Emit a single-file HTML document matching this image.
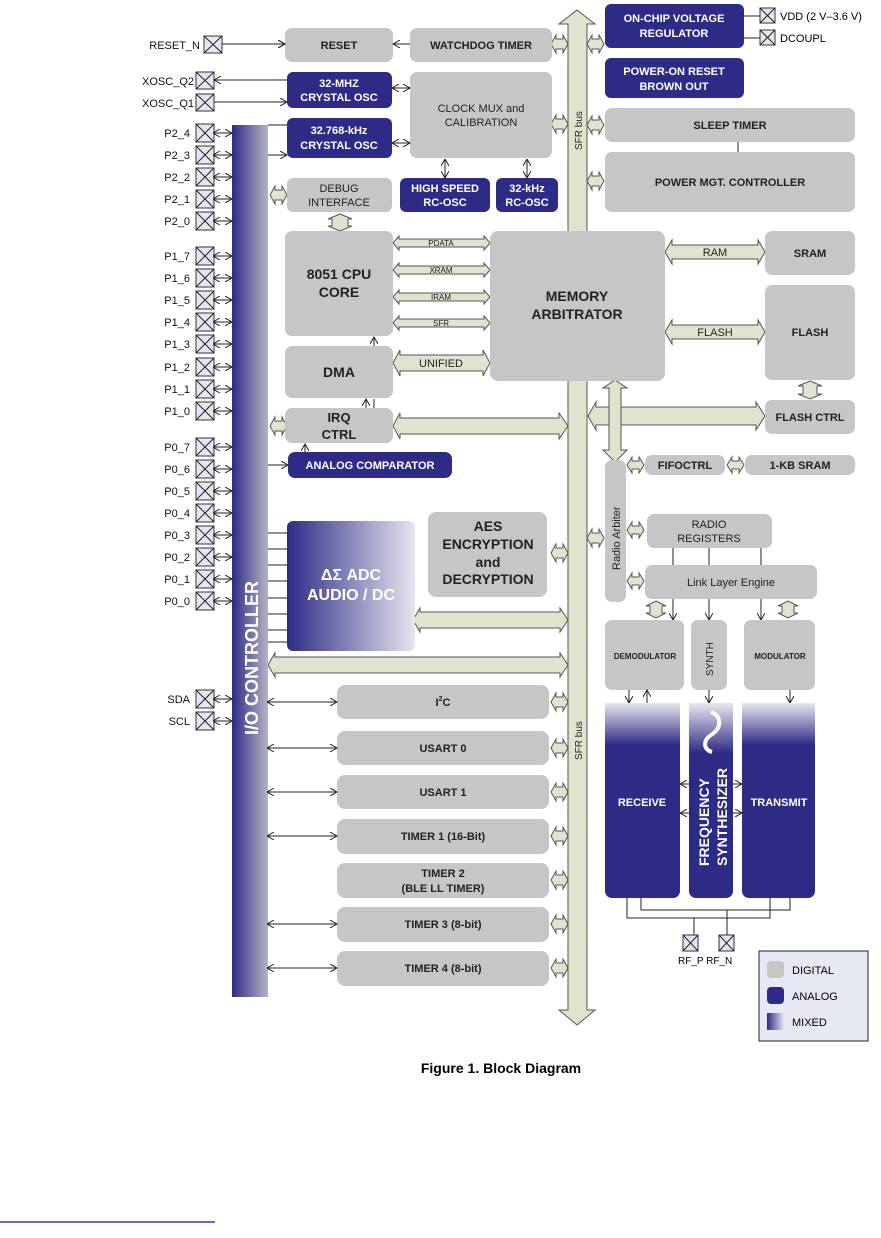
<!DOCTYPE html>
<html><head><meta charset="utf-8"><style>
body{margin:0;background:#fff;}
svg{display:block;font-family:"Liberation Sans",Arial,sans-serif;font-weight:bold;}
.g{fill:#c6c6c6;}
.n{fill:#2d2b85;}
.bus{fill:#dfe4cf;stroke:#555;stroke-width:1;}
.t{fill:#222;font-size:11px;text-anchor:middle;}
.w{fill:#fff;font-size:11px;text-anchor:middle;}
.p{fill:#111;font-size:11px;font-weight:normal;text-anchor:end;}
.ln{stroke:#222;stroke-width:1;fill:none;}
.pin{fill:#e4e6f2;stroke:#333;stroke-width:1;}
</style></head><body>
<svg width="881" height="1238" viewBox="0 0 881 1238">
<defs>
<marker id="a" markerWidth="8" markerHeight="8" refX="7" refY="4" orient="auto" markerUnits="userSpaceOnUse"><path d="M0,0 L7,4 L0,8" fill="none" stroke="#222" stroke-width="1"/></marker>
<marker id="s" markerWidth="8" markerHeight="8" refX="1" refY="4" orient="auto" markerUnits="userSpaceOnUse"><path d="M7,0 L0,4 L7,8" fill="none" stroke="#222" stroke-width="1"/></marker>
<linearGradient id="io" x1="0" x2="1" y1="0" y2="0"><stop offset="0" stop-color="#2d2b85"/><stop offset="1" stop-color="#b4b4c4"/></linearGradient>
<linearGradient id="adc" x1="0" x2="1" y1="0" y2="0"><stop offset="0" stop-color="#2d2b85"/><stop offset="1" stop-color="#e6e6ee"/></linearGradient>
<linearGradient id="rf" x1="0" x2="0" y1="0" y2="1"><stop offset="0" stop-color="#e8e8f0"/><stop offset="1" stop-color="#2d2b85"/></linearGradient>
</defs>

<!-- SFR bus -->
<polygon class="bus" points="577,10 595,24 587,24 587,1010 595,1010 577,1025 559,1010 568,1010 568,24 559,24"/>
<text transform="translate(582,150) rotate(-90)" style="font-size:10px;font-weight:normal" fill="#222">SFR bus</text>
<text transform="translate(582,760) rotate(-90)" style="font-size:10px;font-weight:normal" fill="#222">SFR bus</text>

<!-- small SFR connectors left side -->
<g class="bus">
<polygon points="551,44 556,35 556,39 563,39 563,35 568,44 563,53 563,49 556,49 556,53"/>
<polygon points="551,124 556,115 556,119 563,119 563,115 568,124 563,133 563,129 556,129 556,133"/>
<polygon points="551,553 556,544 556,548 563,548 563,544 568,553 563,562 563,558 556,558 556,562"/>
<polygon points="551,702 556,693 556,697 563,697 563,693 568,702 563,711 563,707 556,707 556,711"/>
<polygon points="551,748 556,739 556,743 563,743 563,739 568,748 563,757 563,753 556,753 556,757"/>
<polygon points="551,792 556,783 556,787 563,787 563,783 568,792 563,801 563,797 556,797 556,801"/>
<polygon points="551,836 556,827 556,831 563,831 563,827 568,836 563,845 563,841 556,841 556,845"/>
<polygon points="551,880 556,871 556,875 563,875 563,871 568,880 563,889 563,885 556,885 556,889"/>
<polygon points="551,924 556,915 556,919 563,919 563,915 568,924 563,933 563,929 556,929 556,933"/>
<polygon points="551,968 556,959 556,963 563,963 563,959 568,968 563,977 563,973 556,973 556,977"/>
<!-- right side -->
<polygon points="587,44 592,35 592,39 599,39 599,35 604,44 599,53 599,49 592,49 592,53"/>
<polygon points="587,125 592,116 592,120 599,120 599,116 604,125 599,134 599,130 592,130 592,134"/>
<polygon points="587,181 592,172 592,176 599,176 599,172 604,181 599,190 599,186 592,186 592,190"/>
<polygon points="587,538 592,529 592,533 599,533 599,529 604,538 599,547 599,543 592,543 592,547"/>
<!-- left of blocks from IO -->
<polygon points="270,195 275,186 275,190 282,190 282,186 287,195 282,204 282,200 275,200 275,204"/>
<polygon points="270,426 275,417 275,421 282,421 282,417 287,426 282,435 282,431 275,431 275,435"/>
<!-- debug-cpu vertical -->
<polygon points="340,214 352,219 348,219 348,226 352,226 340,231 328,226 332,226 332,219 328,219"/>
<!-- radio arbiter connectors -->
<polygon points="627,465 632,457 632,461 639,461 639,457 644,465 639,473 639,469 632,469 632,473"/>
<polygon points="727,465 732,457 732,461 739,461 739,457 744,465 739,473 739,469 732,469 732,473"/>
<polygon points="627,530 632,522 632,526 639,526 639,522 644,530 639,538 639,534 632,534 632,538"/>
<polygon points="627,581 632,573 632,577 639,577 639,573 644,581 639,589 639,585 632,585 632,589"/>
<!-- LLE to demod/mod -->
<polygon points="656,601 666,606 662,606 662,613 666,613 656,618 646,613 650,613 650,606 646,606"/>
<polygon points="788,601 798,606 794,606 794,613 798,613 788,618 778,613 782,613 782,606 778,606"/>
<!-- flash to flash ctrl -->
<polygon points="810,381 822,386 817,386 817,394 822,394 810,399 798,394 803,394 803,386 798,386"/>
</g>

<!-- big fat arrows -->
<g class="bus">
<polygon points="393,243 399,236 399,239 484,239 484,236 490,243 484,250 484,247 399,247 399,250"/>
<polygon points="393,270 399,263 399,266 484,266 484,263 490,270 484,277 484,274 399,274 399,277"/>
<polygon points="393,297 399,290 399,293 484,293 484,290 490,297 484,304 484,301 399,301 399,304"/>
<polygon points="393,323 399,316 399,319 484,319 484,316 490,323 484,330 484,327 399,327 399,330"/>
<polygon points="393,363 400,350 400,355 483,355 483,350 490,363 483,376 483,371 400,371 400,376"/>
<polygon points="393,426 400,413 400,418 559,418 559,413 568,426 559,439 559,434 400,434 400,439"/>
<polygon points="665,252 672,240 672,245 758,245 758,240 765,252 758,264 758,259 672,259 672,264"/>
<polygon points="665,332 672,320 672,325 758,325 758,320 765,332 758,344 758,339 672,339 672,344"/>
<polygon points="588,416 596,402 596,407 756,407 756,402 765,416 756,430 756,425 596,425 596,430"/>
<polygon points="615,380 627,388 621,388 621,450 627,450 615,462 603,450 609,450 609,388 603,388"/>
<polygon points="413,620 420,608 420,612 560,612 560,608 568,620 560,632 560,628 420,628 420,632"/>
<polygon points="268,665 275,653 275,657 560,657 560,653 568,665 560,677 560,673 275,673 275,677"/>
</g>
<g style="font-size:8px;font-weight:normal" fill="#222" text-anchor="middle">
<text x="441" y="246">PDATA</text><text x="441" y="273">XRAM</text><text x="441" y="300">IRAM</text><text x="441" y="326">SFR</text>
</g>
<text class="t" x="441" y="367" style="font-weight:normal;font-size:11px">UNIFIED</text>
<text class="t" x="715" y="256" style="font-weight:normal">RAM</text>
<text class="t" x="715" y="336" style="font-weight:normal">FLASH</text>

<!-- top blocks -->
<rect class="g" x="285" y="28" width="108" height="34" rx="7"/><text class="t" x="339" y="49">RESET</text>
<rect class="g" x="410" y="28" width="142" height="34" rx="7"/><text class="t" x="481" y="49">WATCHDOG TIMER</text>
<rect class="n" x="287" y="72" width="105" height="36" rx="6"/><text class="w" x="339" y="87">32-MHZ</text><text class="w" x="339" y="101">CRYSTAL OSC</text>
<rect class="n" x="287" y="118" width="105" height="40" rx="6"/><text class="w" x="339" y="134">32.768-kHz</text><text class="w" x="339" y="149">CRYSTAL OSC</text>
<rect class="g" x="410" y="72" width="142" height="86" rx="7"/><text class="t" x="481" y="112" style="font-weight:normal">CLOCK MUX and</text><text class="t" x="481" y="126" style="font-weight:normal">CALIBRATION</text>
<rect class="g" x="287" y="178" width="105" height="34" rx="6"/><text class="t" x="339" y="192" style="font-weight:normal">DEBUG</text><text class="t" x="339" y="206" style="font-weight:normal">INTERFACE</text>
<rect class="n" x="400" y="178" width="90" height="34" rx="6"/><text class="w" x="445" y="192">HIGH SPEED</text><text class="w" x="445" y="206">RC-OSC</text>
<rect class="n" x="496" y="178" width="62" height="34" rx="6"/><text class="w" x="527" y="192">32-kHz</text><text class="w" x="527" y="206">RC-OSC</text>

<rect class="n" x="605" y="4" width="139" height="44" rx="6"/><text class="w" x="674" y="22">ON-CHIP VOLTAGE</text><text class="w" x="674" y="37">REGULATOR</text>
<rect class="n" x="605" y="58" width="139" height="40" rx="6"/><text class="w" x="674" y="75">POWER-ON RESET</text><text class="w" x="674" y="90">BROWN OUT</text>
<rect class="g" x="605" y="108" width="250" height="34" rx="7"/><text class="t" x="730" y="129">SLEEP TIMER</text>
<rect class="g" x="605" y="152" width="250" height="60" rx="7"/><text class="t" x="730" y="186">POWER MGT. CONTROLLER</text>
<line class="ln" x1="738" y1="142" x2="738" y2="152"/>

<rect class="pin" x="760" y="8" width="15" height="15"/><path class="ln" d="M760,8 L775,23 M775,8 L760,23"/>
<rect class="pin" x="760" y="30" width="15" height="15"/><path class="ln" d="M760,30 L775,45 M775,30 L760,45"/>
<line class="ln" x1="744" y1="16" x2="760" y2="16"/><line class="ln" x1="744" y1="38" x2="760" y2="38"/>
<text x="780" y="20" style="font-size:11px;font-weight:normal">VDD (2 V–3.6 V)</text>
<text x="780" y="42" style="font-size:11px;font-weight:normal">DCOUPL</text>

<!-- CPU etc -->
<rect class="g" x="285" y="231" width="108" height="105" rx="7"/><text class="t" x="339" y="279" style="font-size:14px">8051 CPU</text><text class="t" x="339" y="297" style="font-size:14px">CORE</text>
<rect class="g" x="285" y="346" width="108" height="52" rx="7"/><text class="t" x="339" y="377" style="font-size:14px">DMA</text>
<rect class="g" x="285" y="408" width="108" height="35" rx="7"/><text class="t" x="339" y="422" style="font-size:13px">IRQ</text><text class="t" x="339" y="439" style="font-size:13px">CTRL</text>
<rect class="g" x="490" y="231" width="175" height="150" rx="8"/><text class="t" x="577" y="301" style="font-size:14px">MEMORY</text><text class="t" x="577" y="319" style="font-size:14px">ARBITRATOR</text>
<rect class="g" x="765" y="231" width="90" height="44" rx="7"/><text class="t" x="810" y="257">SRAM</text>
<rect class="g" x="765" y="285" width="90" height="95" rx="7"/><text class="t" x="810" y="336">FLASH</text>
<rect class="g" x="765" y="400" width="90" height="34" rx="7"/><text class="t" x="810" y="421">FLASH CTRL</text>
<rect class="n" x="288" y="452" width="164" height="26" rx="7"/><text class="w" x="370" y="469">ANALOG COMPARATOR</text>

<!-- thin arrows -->
<path class="ln" d="M214,44 H285" marker-end="url(#a)"/>
<path class="ln" d="M410,44 H393" marker-end="url(#a)"/>
<path class="ln" d="M287,80 H214" marker-end="url(#a)"/>
<path class="ln" d="M214,102 H287" marker-end="url(#a)"/>
<path class="ln" d="M268,125 H287"/>
<path class="ln" d="M268,155 H287" marker-end="url(#a)"/>
<path class="ln" d="M393,88 H410" marker-start="url(#s)" marker-end="url(#a)"/>
<path class="ln" d="M393,143 H410" marker-start="url(#s)" marker-end="url(#a)"/>
<path class="ln" d="M445,160 V178" marker-start="url(#s)" marker-end="url(#a)"/>
<path class="ln" d="M527,160 V178" marker-start="url(#s)" marker-end="url(#a)"/>
<path class="ln" d="M374,346 V337" marker-end="url(#a)"/>
<path class="ln" d="M366,408 V399" marker-end="url(#a)"/>
<path class="ln" d="M374,408 V399"/>
<path class="ln" d="M305,452 V444" marker-end="url(#a)"/>
<path class="ln" d="M268,465 H288" marker-end="url(#a)"/>

<!-- radio -->
<rect class="g" x="605" y="460" width="21" height="142" rx="7"/>
<text transform="translate(620,570) rotate(-90)" style="font-size:11px;font-weight:normal" fill="#222">Radio Arbiter</text>
<rect class="g" x="645" y="455" width="80" height="20" rx="7"/><text class="t" x="685" y="469">FIFOCTRL</text>
<rect class="g" x="745" y="455" width="110" height="20" rx="7"/><text class="t" x="800" y="469">1-KB SRAM</text>
<rect class="g" x="647" y="514" width="125" height="34" rx="7"/><text class="t" x="709" y="528" style="font-weight:normal">RADIO</text><text class="t" x="709" y="542" style="font-weight:normal">REGISTERS</text>
<rect class="g" x="645" y="565" width="172" height="34" rx="7"/><text class="t" x="731" y="586" style="font-weight:normal">Link Layer Engine</text>
<path class="ln" d="M673,548 V565 M709,548 V565 M761,548 V565"/>
<path class="ln" d="M673,599 V620" marker-end="url(#a)"/>
<path class="ln" d="M709,599 V620" marker-end="url(#a)"/>
<path class="ln" d="M761,599 V620" marker-end="url(#a)"/>
<rect class="g" x="605" y="620" width="79" height="70" rx="7"/><text class="t" x="645" y="659" style="font-size:8px">DEMODULATOR</text>
<rect class="g" x="691" y="620" width="36" height="70" rx="7"/><text transform="translate(713,676) rotate(-90)" style="font-size:10px;font-weight:normal" fill="#222">SYNTH</text>
<rect class="g" x="744" y="620" width="71" height="70" rx="7"/><text class="t" x="780" y="659" style="font-size:8px">MODULATOR</text>
<path class="ln" d="M629,690 V703" marker-end="url(#a)"/>
<path class="ln" d="M647,703 V690" marker-end="url(#a)"/>
<path class="ln" d="M709,690 V703" marker-end="url(#a)"/>
<path class="ln" d="M790,690 V703" marker-end="url(#a)"/>

<rect fill="url(#rf)" x="605" y="703" width="75" height="42"/>
<rect class="n" x="605" y="745" width="75" height="153" rx="7"/><rect class="n" x="605" y="745" width="75" height="10"/>
<rect fill="url(#rf)" x="689" y="703" width="44" height="50"/>
<rect class="n" x="689" y="753" width="44" height="145" rx="7"/><rect class="n" x="689" y="753" width="44" height="10"/>
<path d="M711,712 C722,716 722,728 711,735 C702,741 704,750 712,752" stroke="#fff" stroke-width="4" fill="none"/>
<rect fill="url(#rf)" x="742" y="703" width="73" height="42"/>
<rect class="n" x="742" y="745" width="73" height="153" rx="7"/><rect class="n" x="742" y="745" width="73" height="10"/>
<text class="w" x="642" y="806">RECEIVE</text>
<text class="w" x="779" y="806">TRANSMIT</text>
<text transform="translate(709,866) rotate(-90)" class="w" style="font-size:14px;text-anchor:start">FREQUENCY</text>
<text transform="translate(727,866) rotate(-90)" class="w" style="font-size:14px;text-anchor:start">SYNTHESIZER</text>
<path class="ln" d="M689,784 H680" marker-end="url(#a)"/><path class="ln" d="M689,813 H680" marker-end="url(#a)"/>
<path class="ln" d="M733,784 H742" marker-end="url(#a)"/><path class="ln" d="M733,813 H742" marker-end="url(#a)"/>
<path class="ln" d="M627,898 V918 H770 V898 M641,898 V910 H790 V898 M694,918 V935 M727,910 V935"/>
<rect class="pin" x="683" y="935" width="15" height="16"/><path class="ln" d="M683,935 L698,951 M698,935 L683,951"/>
<rect class="pin" x="719" y="935" width="15" height="16"/><path class="ln" d="M719,935 L734,951 M734,935 L719,951"/>
<text x="678" y="964" style="font-size:10px;font-weight:normal">RF_P RF_N</text>

<!-- legend -->
<rect x="759" y="951" width="109" height="90" fill="#e6e8f4" stroke="#222"/>
<rect class="g" x="767" y="961" width="17" height="17" rx="4"/><text x="792" y="974" style="font-size:11px;font-weight:normal">DIGITAL</text>
<rect class="n" x="767" y="987" width="17" height="17" rx="4"/><text x="792" y="1000" style="font-size:11px;font-weight:normal">ANALOG</text>
<rect fill="url(#adc)" x="767" y="1013" width="17" height="17"/><text x="792" y="1026" style="font-size:11px;font-weight:normal">MIXED</text>

<!-- IO controller -->
<rect fill="url(#io)" x="232" y="125" width="36" height="872"/>
<text transform="translate(258,735) rotate(-90)" class="w" style="font-size:18px;text-anchor:start">I/O CONTROLLER</text>

<!-- ADC & AES -->
<rect fill="url(#adc)" x="287" y="521" width="128" height="130" rx="6"/>
<text class="w" x="351" y="580" style="font-size:16px">ΔΣ ADC</text><text class="w" x="351" y="600" style="font-size:16px">AUDIO / DC</text>
<path class="ln" d="M268,533 H287 M268,549 H287 M268,565 H287 M268,581 H287 M268,598 H287 M268,614 H287 M268,630 H287 M268,642 H287"/>
<rect class="g" x="428" y="512" width="119" height="85" rx="8"/>
<text class="t" x="488" y="531" style="font-size:14px">AES</text><text class="t" x="488" y="549" style="font-size:14px">ENCRYPTION</text><text class="t" x="488" y="567" style="font-size:14px">and</text><text class="t" x="488" y="584" style="font-size:14px">DECRYPTION</text>

<!-- peripherals -->
<rect class="g" x="337" y="685" width="212" height="34" rx="8"/><text class="t" x="443" y="706">I<tspan dy="-5" style="font-size:7px">2</tspan><tspan dy="5">C</tspan></text>
<rect class="g" x="337" y="731" width="212" height="34" rx="8"/><text class="t" x="443" y="752">USART 0</text>
<rect class="g" x="337" y="775" width="212" height="34" rx="8"/><text class="t" x="443" y="796">USART 1</text>
<rect class="g" x="337" y="819" width="212" height="35" rx="8"/><text class="t" x="443" y="840">TIMER 1 (16-Bit)</text>
<rect class="g" x="337" y="863" width="212" height="35" rx="8"/><text class="t" x="443" y="877">TIMER 2</text><text class="t" x="443" y="892">(BLE LL TIMER)</text>
<rect class="g" x="337" y="907" width="212" height="35" rx="8"/><text class="t" x="443" y="928">TIMER 3 (8-bit)</text>
<rect class="g" x="337" y="951" width="212" height="35" rx="8"/><text class="t" x="443" y="972">TIMER 4 (8-bit)</text>
<g class="ln">
<path d="M268,702 H337" marker-start="url(#s)" marker-end="url(#a)"/>
<path d="M268,748 H337" marker-start="url(#s)" marker-end="url(#a)"/>
<path d="M268,792 H337" marker-start="url(#s)" marker-end="url(#a)"/>
<path d="M268,836 H337" marker-start="url(#s)" marker-end="url(#a)"/>
<path d="M268,924 H337" marker-start="url(#s)" marker-end="url(#a)"/>
<path d="M268,968 H337" marker-start="url(#s)" marker-end="url(#a)"/>
</g>

<!-- pins -->
<g>
<rect class="pin" x="204" y="36" width="18" height="17"/><path class="ln" d="M204,36 L222,53 M222,36 L204,53"/><text class="p" x="200" y="49">RESET_N</text>
<rect class="pin" x="196" y="72" width="18" height="17"/><path class="ln" d="M196,72 L214,89 M214,72 L196,89"/><text class="p" x="194" y="85">XOSC_Q2</text>
<rect class="pin" x="196" y="94" width="18" height="17"/><path class="ln" d="M196,94 L214,111 M214,94 L196,111"/><text class="p" x="194" y="107">XOSC_Q1</text>
</g>
<g id="pins"></g>
<path class="ln" d="M222,44 H285" marker-end="url(#a)"/>

<g>
<!-- generated pins -->
<rect class="pin" x="196" y="124" width="18" height="18"/><path class="ln" d="M196,124 L214,142 M214,124 L196,142"/><text class="p" x="190" y="137">P2_4</text><path class="ln" d="M214,133 H232" marker-start="url(#s)" marker-end="url(#a)"/>
<rect class="pin" x="196" y="146" width="18" height="18"/><path class="ln" d="M196,146 L214,164 M214,146 L196,164"/><text class="p" x="190" y="159">P2_3</text><path class="ln" d="M214,155 H232" marker-start="url(#s)" marker-end="url(#a)"/>
<rect class="pin" x="196" y="168" width="18" height="18"/><path class="ln" d="M196,168 L214,186 M214,168 L196,186"/><text class="p" x="190" y="181">P2_2</text><path class="ln" d="M214,177 H232" marker-start="url(#s)" marker-end="url(#a)"/>
<rect class="pin" x="196" y="190" width="18" height="18"/><path class="ln" d="M196,190 L214,208 M214,190 L196,208"/><text class="p" x="190" y="203">P2_1</text><path class="ln" d="M214,199 H232" marker-start="url(#s)" marker-end="url(#a)"/>
<rect class="pin" x="196" y="212" width="18" height="18"/><path class="ln" d="M196,212 L214,230 M214,212 L196,230"/><text class="p" x="190" y="225">P2_0</text><path class="ln" d="M214,221 H232" marker-start="url(#s)" marker-end="url(#a)"/>
<rect class="pin" x="196" y="247" width="18" height="18"/><path class="ln" d="M196,247 L214,265 M214,247 L196,265"/><text class="p" x="190" y="260">P1_7</text><path class="ln" d="M214,256 H232" marker-start="url(#s)" marker-end="url(#a)"/>
<rect class="pin" x="196" y="269" width="18" height="18"/><path class="ln" d="M196,269 L214,287 M214,269 L196,287"/><text class="p" x="190" y="282">P1_6</text><path class="ln" d="M214,278 H232" marker-start="url(#s)" marker-end="url(#a)"/>
<rect class="pin" x="196" y="291" width="18" height="18"/><path class="ln" d="M196,291 L214,309 M214,291 L196,309"/><text class="p" x="190" y="304">P1_5</text><path class="ln" d="M214,300 H232" marker-start="url(#s)" marker-end="url(#a)"/>
<rect class="pin" x="196" y="313" width="18" height="18"/><path class="ln" d="M196,313 L214,331 M214,313 L196,331"/><text class="p" x="190" y="326">P1_4</text><path class="ln" d="M214,322 H232" marker-start="url(#s)" marker-end="url(#a)"/>
<rect class="pin" x="196" y="335" width="18" height="18"/><path class="ln" d="M196,335 L214,353 M214,335 L196,353"/><text class="p" x="190" y="348">P1_3</text><path class="ln" d="M214,344 H232" marker-start="url(#s)" marker-end="url(#a)"/>
<rect class="pin" x="196" y="358" width="18" height="18"/><path class="ln" d="M196,358 L214,376 M214,358 L196,376"/><text class="p" x="190" y="371">P1_2</text><path class="ln" d="M214,367 H232" marker-start="url(#s)" marker-end="url(#a)"/>
<rect class="pin" x="196" y="380" width="18" height="18"/><path class="ln" d="M196,380 L214,398 M214,380 L196,398"/><text class="p" x="190" y="393">P1_1</text><path class="ln" d="M214,389 H232" marker-start="url(#s)" marker-end="url(#a)"/>
<rect class="pin" x="196" y="402" width="18" height="18"/><path class="ln" d="M196,402 L214,420 M214,402 L196,420"/><text class="p" x="190" y="415">P1_0</text><path class="ln" d="M214,411 H232" marker-start="url(#s)" marker-end="url(#a)"/>
<rect class="pin" x="196" y="438" width="18" height="18"/><path class="ln" d="M196,438 L214,456 M214,438 L196,456"/><text class="p" x="190" y="451">P0_7</text><path class="ln" d="M214,447 H232" marker-start="url(#s)" marker-end="url(#a)"/>
<rect class="pin" x="196" y="460" width="18" height="18"/><path class="ln" d="M196,460 L214,478 M214,460 L196,478"/><text class="p" x="190" y="473">P0_6</text><path class="ln" d="M214,469 H232" marker-start="url(#s)" marker-end="url(#a)"/>
<rect class="pin" x="196" y="482" width="18" height="18"/><path class="ln" d="M196,482 L214,500 M214,482 L196,500"/><text class="p" x="190" y="495">P0_5</text><path class="ln" d="M214,491 H232" marker-start="url(#s)" marker-end="url(#a)"/>
<rect class="pin" x="196" y="504" width="18" height="18"/><path class="ln" d="M196,504 L214,522 M214,504 L196,522"/><text class="p" x="190" y="517">P0_4</text><path class="ln" d="M214,513 H232" marker-start="url(#s)" marker-end="url(#a)"/>
<rect class="pin" x="196" y="526" width="18" height="18"/><path class="ln" d="M196,526 L214,544 M214,526 L196,544"/><text class="p" x="190" y="539">P0_3</text><path class="ln" d="M214,535 H232" marker-start="url(#s)" marker-end="url(#a)"/>
<rect class="pin" x="196" y="548" width="18" height="18"/><path class="ln" d="M196,548 L214,566 M214,548 L196,566"/><text class="p" x="190" y="561">P0_2</text><path class="ln" d="M214,557 H232" marker-start="url(#s)" marker-end="url(#a)"/>
<rect class="pin" x="196" y="570" width="18" height="18"/><path class="ln" d="M196,570 L214,588 M214,570 L196,588"/><text class="p" x="190" y="583">P0_1</text><path class="ln" d="M214,579 H232" marker-start="url(#s)" marker-end="url(#a)"/>
<rect class="pin" x="196" y="592" width="18" height="18"/><path class="ln" d="M196,592 L214,610 M214,592 L196,610"/><text class="p" x="190" y="605">P0_0</text><path class="ln" d="M214,601 H232" marker-start="url(#s)" marker-end="url(#a)"/>
<rect class="pin" x="196" y="690" width="18" height="18"/><path class="ln" d="M196,690 L214,708 M214,690 L196,708"/><text class="p" x="190" y="703">SDA</text><path class="ln" d="M214,699 H232" marker-start="url(#s)" marker-end="url(#a)"/>
<rect class="pin" x="196" y="712" width="18" height="18"/><path class="ln" d="M196,712 L214,730 M214,712 L196,730"/><text class="p" x="190" y="725">SCL</text><path class="ln" d="M214,721 H232" marker-start="url(#s)" marker-end="url(#a)"/>
</g>

<text x="501" y="1073" text-anchor="middle" style="font-size:14px" fill="#000">Figure 1.  Block Diagram</text>
<line x1="0" y1="1222" x2="215" y2="1222" stroke="#3333cc" stroke-width="1.5"/>
</svg>
</body></html>
